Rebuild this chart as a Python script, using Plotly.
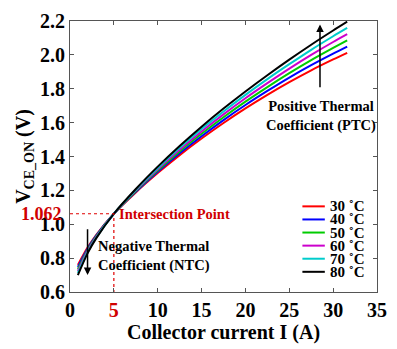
import plotly.graph_objects as go

current = [0.9, 2, 3, 5, 7.5, 10, 12.5, 15, 17.5, 20, 22.5, 25, 27.5, 30, 31.6]
v30 = [0.760, 0.862, 0.938, 1.062, 1.188, 1.302, 1.408, 1.506, 1.598, 1.684, 1.764, 1.839, 1.909, 1.973, 2.012]
v40 = [0.748, 0.855, 0.934, 1.062, 1.192, 1.310, 1.419, 1.520, 1.615, 1.704, 1.787, 1.866, 1.939, 2.007, 2.049]
v50 = [0.736, 0.848, 0.930, 1.062, 1.196, 1.317, 1.430, 1.534, 1.632, 1.724, 1.810, 1.892, 1.969, 2.041, 2.086]
v60 = [0.724, 0.842, 0.926, 1.062, 1.200, 1.325, 1.440, 1.548, 1.649, 1.744, 1.833, 1.919, 2.000, 2.076, 2.122]
v70 = [0.712, 0.835, 0.922, 1.062, 1.204, 1.332, 1.451, 1.562, 1.666, 1.764, 1.857, 1.945, 2.030, 2.110, 2.159]
v80 = [0.700, 0.828, 0.918, 1.062, 1.208, 1.340, 1.462, 1.576, 1.683, 1.784, 1.880, 1.972, 2.060, 2.144, 2.196]

series_names = ["30 ˚C", "40 ˚C", "50 ˚C", "60 ˚C", "70 ˚C", "80 ˚C"]
series_values = [v30, v40, v50, v60, v70, v80]
colors = ["#ff0000", "#0000ff", "#00cc00", "#cc00cc", "#00cccc", "#000000"]

x_ticks = [0, 5, 10, 15, 20, 25, 30, 35]
y_ticks = [0.6, 0.8, 1.0, 1.2, 1.4, 1.6, 1.8, 2.0, 2.2]
intersection_x = 5
intersection_y = 1.062

FONT = "Liberation Serif"

fig = go.Figure()
for name, vals, col in zip(series_names, series_values, colors):
    fig.add_trace(go.Scatter(x=current, y=vals, mode="lines", name=name,
                             line=dict(color=col, width=2, shape="spline", smoothing=0.8),
                             showlegend=False))

fig.add_trace(go.Scatter(x=[0, intersection_x, intersection_x],
                         y=[intersection_y, intersection_y, 0.6],
                         mode="lines", line=dict(color="#e00000", width=1.2, dash="dot"),
                         showlegend=False, hoverinfo="skip"))

xticktext = []
for t in x_ticks:
    if t == intersection_x:
        xticktext.append("<span style='color:#d00000'>%d</span>" % t)
    else:
        xticktext.append(str(t))

fig.update_layout(
    width=397, height=349,
    margin=dict(l=70, r=10, t=11, b=56),
    paper_bgcolor="white", plot_bgcolor="white",
    font=dict(family=FONT, color="black"),
)
fig.update_xaxes(range=[0, 35], tickvals=x_ticks, ticktext=xticktext,
                 ticks="inside", ticklen=4, tickcolor="#555", mirror="ticks",
                 showline=True, linecolor="#555", linewidth=1, showgrid=False, zeroline=False,
                 tickfont=dict(family=FONT, size=20, color="black", weight="bold"),
                 title=dict(text="Collector current I (A)",
                            font=dict(family=FONT, size=20, color="black", weight="bold"), standoff=4))
fig.update_yaxes(range=[0.6, 2.2], tickvals=y_ticks, ticktext=["%.1f" % v for v in y_ticks],
                 ticks="inside", ticklen=4, tickcolor="#555", mirror="ticks",
                 showline=True, linecolor="#555", linewidth=1, showgrid=False, zeroline=False,
                 tickfont=dict(family=FONT, size=20, color="black", weight="bold"),
                 title=dict(text="V<sub>CE_ON</sub> (V)",
                            font=dict(family=FONT, size=20, color="black", weight="bold"), standoff=4))

ann_font = dict(family=FONT, size=14.5, color="black", weight="bold")
fig.add_annotation(x=0, xref="paper", y=intersection_y, yref="y", xanchor="right", yanchor="middle",
                   xshift=-6, text="1.062", showarrow=False,
                   font=dict(family=FONT, size=18, color="#d00000", weight="bold"))
fig.add_annotation(x=5.4, y=intersection_y, xanchor="left", yanchor="middle",
                   text="Intersection Point", showarrow=False,
                   font=dict(family=FONT, size=14.5, color="#d00000", weight="bold"))
fig.add_annotation(x=3.0, y=0.815, xanchor="left", yanchor="middle", align="left",
                   text="Negative Thermal<br>Coefficient (NTC)", showarrow=False,
                   font=ann_font)
fig.add_annotation(x=28.6, y=1.64, xanchor="center", yanchor="middle", align="center",
                   text="Positive Thermal<br>Coefficient (PTC)", showarrow=False,
                   font=ann_font)
fig.add_annotation(x=28.5, y=2.18, ax=28.5, ay=1.80, xref="x", yref="y", axref="x", ayref="y",
                   showarrow=True, arrowhead=2, arrowsize=1, arrowwidth=1.5, arrowcolor="black", text="")
fig.add_annotation(x=2.0, y=0.70, ax=2.0, ay=0.98, xref="x", yref="y", axref="x", ayref="y",
                   showarrow=True, arrowhead=2, arrowsize=1, arrowwidth=1.5, arrowcolor="black", text="")

leg_x0, leg_x1 = 0.757, 0.83
for i, (name, col) in enumerate(zip(series_names, colors)):
    yy = 0.316 - i * 0.0483
    fig.add_shape(type="line", xref="paper", yref="paper", x0=leg_x0, x1=leg_x1, y0=yy, y1=yy,
                  line=dict(color=col, width=2))
    fig.add_annotation(x=leg_x1 + 0.012, y=yy, xref="paper", yref="paper", xanchor="left",
                       yanchor="middle", text=name, showarrow=False,
                       font=dict(family=FONT, size=15, color="black", weight="bold"))

fig.write_html("out.html")
